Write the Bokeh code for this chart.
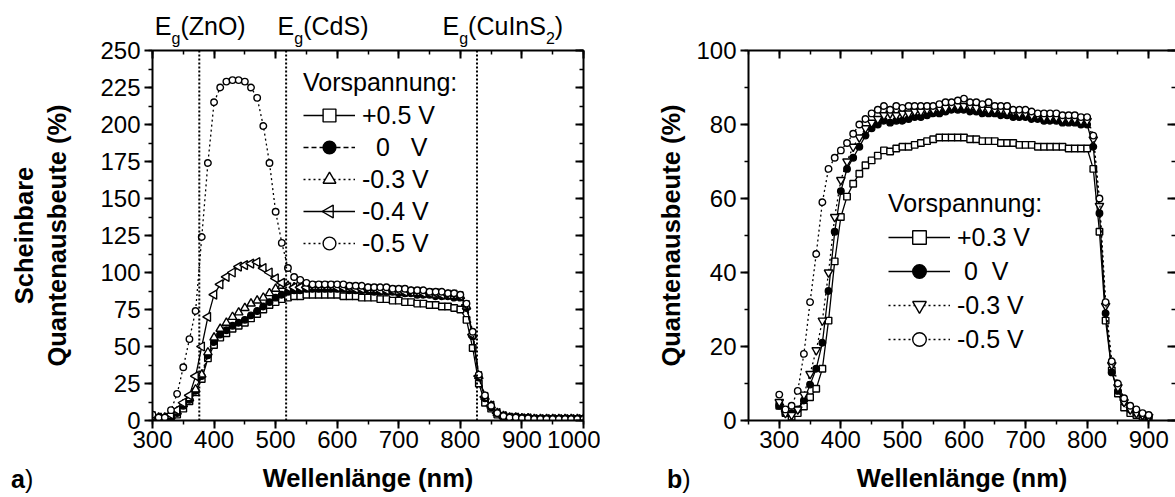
import math
from bokeh.plotting import figure
from bokeh.layouts import row
from bokeh.models import (Range1d, LinearAxis, SingleIntervalTicker, Legend,
                          LegendItem, Span, Div)
from bokeh.embed import file_html
from bokeh.resources import INLINE

FONT = "Liberation Sans"

# ---------------- data: panel a) ----------------
wl_a = list(range(300, 1001, 10))
a_p05 = [2, 1, 1, 1, 4, 8, 13, 19, 28, 42,
         51, 56, 59, 62, 64, 66, 69, 72, 75, 78,
         80, 82, 83, 84, 84, 85, 85, 85, 85, 85,
         85, 84, 84, 84, 83, 83, 83, 82, 82, 81,
         81, 80, 80, 79, 79, 78, 78, 77, 77, 76,
         75, 68, 49, 25, 12, 8, 4, 3, 2, 2,
         1.5, 1.5, 1, 1, 1, 1, 1, 1, 1, 1,
         1]
a_0 = [2, 1, 1, 2, 5, 10, 14, 20, 30, 44,
       53, 58, 61, 64, 66, 68, 71, 74, 77, 80,
       83, 85, 87, 88, 88, 89, 89, 89, 89, 89,
       89, 89, 88, 88, 88, 88, 87, 87, 87, 87,
       86, 86, 86, 85, 85, 85, 84, 84, 84, 83,
       83, 76, 57, 29, 15, 9, 5, 3, 2, 2,
       1.5, 1.5, 1, 1, 1, 1, 1, 1, 1, 1,
       1]
a_m03 = [3, 2, 2, 3, 6, 11, 15, 21, 31, 46,
         56, 62, 66, 70, 73, 76, 79, 81, 83, 86,
         89, 91, 91, 90, 90, 90, 90, 90, 90, 90,
         90, 90, 89, 89, 89, 89, 88, 88, 88, 88,
         87, 87, 87, 86, 86, 86, 85, 85, 85, 84,
         84, 77, 58, 30, 16, 10, 5, 3, 2, 2,
         1.5, 1.5, 1, 1, 1, 1, 1, 1, 1, 1,
         1]
a_m04 = [3, 2, 2, 4, 7, 12, 17, 30, 50, 70,
         85, 92, 97, 100, 104, 105, 106, 107, 103, 100,
         96, 93, 90, 90, 90, 90, 91, 91, 91, 91,
         90, 90, 90, 89, 89, 89, 89, 88, 88, 88,
         88, 87, 87, 87, 86, 86, 86, 85, 85, 85,
         84, 78, 58, 30, 16, 10, 5, 3, 2, 2,
         1.5, 1.5, 1, 1, 1, 1, 1, 1, 1, 1,
         1]
a_m05 = [4, 2, 2, 7, 18, 36, 55, 74, 124, 174,
         215, 225, 229, 230, 230, 229, 225, 218, 199, 174,
         141, 120, 103, 97, 95, 93, 92, 92, 92, 92,
         92, 92, 91, 91, 91, 90, 90, 90, 90, 89,
         89, 89, 88, 88, 88, 87, 87, 87, 86, 86,
         85, 79, 60, 31, 17, 10, 5, 3, 2, 2,
         1.5, 1.5, 1, 1, 1, 1, 1, 1, 1, 1,
         1]
labels_a = ["+0.5 V", "\u00a0\u00a00\u00a0\u00a0\u00a0V", "-0.3 V", "-0.4 V", "-0.5 V"]

eg_wl = [376, 517, 827]
eg_names = ["ZnO", "CdS", "CuInS<span style='font-size:16px;vertical-align:-9px'>2</span>"]

# ---------------- data: panel b) ----------------
wl_b = list(range(300, 901, 10))
b_p03 = [4, 2, 1, 2, 3.8, 6.3, 8.6, 14, 27, 43,
         55, 60.5, 64, 66.7, 69, 70.3, 71.6, 73, 72.7, 73.5,
         74, 74, 74.5, 75, 75.5, 76, 76.5, 76.5, 76.5, 76.5,
         76.5, 76, 76, 75.5, 75.5, 75.5, 75, 75, 75, 74.5,
         74.5, 74.5, 74, 74, 74, 74, 74, 73.5, 73.5, 73.5,
         73.5, 68, 51, 27, 13.5, 7.3, 3.5, 2, 1.5, 1,
         0.5]
b_0 = [4, 2, 2, 3, 5.4, 9.7, 14, 21, 35, 51,
       62, 68, 71, 74, 77, 79, 80, 81, 80.5, 81,
       81, 81.5, 82, 82, 82.5, 83, 83, 83.5, 84, 84,
       84, 83.5, 83.5, 83, 83, 83, 82.5, 82.5, 82, 82,
       82, 81.5, 81.5, 81, 81, 81, 80.5, 80.5, 80.5, 80,
       80, 74, 56, 29, 13, 8, 5, 3, 2, 1.5,
       1]
b_m03 = [5, 2, 1.5, 3, 7, 12.6, 19, 27, 40, 55,
         65, 70, 74, 76.5, 79, 80.5, 81.5, 82.5, 83, 82.5,
         83, 83, 83.5, 83.5, 84, 84, 84.5, 84.5, 85, 85,
         85, 85, 84.5, 84.5, 84, 84, 84, 83.5, 83.5, 83,
         83, 82.5, 82.5, 82, 82, 82, 81.5, 81.5, 81.5, 81,
         81, 76, 58, 31, 15, 9, 5, 3, 2, 1.5,
         1]
b_m05 = [7, 3, 4, 8, 18, 32, 45, 59, 68, 71,
         73, 75, 77.5, 80, 81.5, 83, 84, 85, 84, 85,
         84.5, 85, 85, 85, 85, 85, 85.5, 86, 86, 86.5,
         87, 86, 86, 85.5, 86, 85, 85, 85, 84, 84,
         84, 83.5, 83, 83, 83, 83, 82.5, 82.5, 82.5, 82,
         82, 77, 60, 32, 16, 10, 6, 4, 3, 2,
         1.5]
labels_b = ["+0.3 V", "\u00a00\u00a0\u00a0V", "-0.3 V", "-0.5 V"]

# ---------------- layout geometry ----------------
H = 497
TOP, BOTTOM = 50, 77
W1, ML1, MR1 = 600, 152, 17
W2, ML2, MR2 = 575, 148, 0
XR1 = (300, 1000)
YR1 = (0, 250)
PXNM = (W1 - ML1 - MR1) / (XR1[1] - XR1[0])
XR2 = (250, 250 + (W2 - ML2 - MR2) / PXNM)
YR2 = (0, 100)
FH = H - TOP - BOTTOM


def make_fig(width, xr, yr, ml, mr):
    p = figure(width=width, height=H, x_range=Range1d(*xr), y_range=Range1d(*yr),
               output_backend="svg", toolbar_location=None,
               x_axis_location=None, y_axis_location=None,
               min_border_left=ml, min_border_right=mr,
               min_border_top=TOP, min_border_bottom=BOTTOM)
    p.outline_line_color = None
    p.xgrid.visible = False
    p.ygrid.visible = False
    p.background_fill_color = "white"
    p.border_fill_color = "white"
    return p


def style_axis(ax, labels=True, inward=False, line=True):
    ax.axis_line_width = 2
    ax.axis_line_color = "black" if line else None
    ax.major_tick_line_width = 2
    ax.minor_tick_line_width = 1.5
    if inward:
        ax.major_tick_in, ax.major_tick_out = 8, 0
        ax.minor_tick_in, ax.minor_tick_out = 4, 0
    else:
        ax.major_tick_in, ax.major_tick_out = 0, 8
        ax.minor_tick_in, ax.minor_tick_out = 0, 4
    if labels:
        ax.major_label_text_font = FONT
        ax.major_label_text_font_size = "24px"
        ax.major_label_text_color = "black"
    else:
        # frame-only axis: ticks without any labels
        ax.major_label_text_font_size = "1px"
        ax.major_label_text_color = None
        ax.major_label_text_alpha = 0
        ax.major_label_standoff = 0
    ax.axis_label_text_font = FONT
    ax.axis_label_text_font_style = "bold"
    ax.axis_label_text_font_size = "25.5px"
    ax.axis_label_text_color = "black"


def add_axes(p, xint, yint, ylabel, ylab_standoff, right_line=True):
    bx = LinearAxis(ticker=SingleIntervalTicker(interval=xint, num_minor_ticks=2),
                    axis_label="Wellenlänge (nm)")
    style_axis(bx)
    bx.major_label_standoff = 2
    bx.axis_label_standoff = 13
    p.add_layout(bx, "below")
    tx = LinearAxis(ticker=SingleIntervalTicker(interval=xint, num_minor_ticks=2))
    style_axis(tx, labels=False, inward=True)
    p.add_layout(tx, "above")
    ly = LinearAxis(ticker=SingleIntervalTicker(interval=yint, num_minor_ticks=2),
                    axis_label=ylabel)
    style_axis(ly)
    ly.major_label_standoff = 4
    ly.axis_label_standoff = ylab_standoff
    p.add_layout(ly, "left")
    ry = LinearAxis(ticker=SingleIntervalTicker(interval=yint, num_minor_ticks=2))
    style_axis(ry, labels=False, inward=True, line=right_line)
    p.add_layout(ry, "right")


def series(p, x, y, marker, dash, fill, size, angle=0.0, lw=1.3):
    ln = p.line(x, y, line_color="black", line_width=lw, line_dash=dash)
    sc = p.scatter(x, y, marker=marker, size=size, angle=angle,
                   line_color="black", line_width=1.4, fill_color=fill)
    return [ln, sc]


def legend(p, items, loc, gw, gh, standoff):
    lg = Legend(items=items, location=loc, title="Vorspannung:",
                title_text_font=FONT, title_text_font_size="25px",
                title_text_font_style="normal", title_text_color="black",
                title_standoff=2,
                label_text_font=FONT, label_text_font_size="25px",
                label_text_color="black",
                glyph_width=gw, glyph_height=gh, label_height=gh,
                label_standoff=standoff, spacing=0, padding=0, margin=0,
                border_line_color=None, background_fill_alpha=0)
    p.add_layout(lg)


# ---------------- panel a ----------------
p1 = make_fig(W1, XR1, YR1, ML1, MR1)
add_axes(p1, 100, 25, "Scheinbare\nQuantenausbeute (%)", 26)

for e in eg_wl:
    p1.add_layout(Span(location=e, dimension="height", line_color="black",
                       line_width=2, line_dash="2 2"))

r = []
r.append(series(p1, wl_a, a_p05, "square", "solid", "white", 6.5))
r.append(series(p1, wl_a, a_0, "circle", "5 3", "black", 6.5))
r.append(series(p1, wl_a, a_m03, "triangle", "2 3", "white", 8.5))
r.append(series(p1, wl_a, a_m04, "triangle", "solid", "white", 9, angle=math.pi / 2))
r.append(series(p1, wl_a, a_m05, "circle", "2 3", "white", 6.5))

# legend a): bottom-left corner at (303, 259) px; glyph box 52 x 32
LEG_A_LEFT, LEG_A_BOTTOM, GW_A, GH_A = 303, 259, 52, 32
items_a = [LegendItem(label=labels_a[i], renderers=r[i]) for i in range(5)]
# the -0.4 V key: the legend draws markers unrotated, so show only its line there
items_a[3] = LegendItem(label=labels_a[3], renderers=[r[3][0]])
legend(p1, items_a, (LEG_A_LEFT - ML1, TOP + FH - LEG_A_BOTTOM), GW_A, GH_A, 7)

# left-pointing triangle key for the -0.4 V legend entry (placed from legend geometry)
key_px_x = LEG_A_LEFT + GW_A / 2
key_px_y = LEG_A_BOTTOM - (5 - 3 - 1) * GH_A - GH_A / 2
p1.scatter([XR1[0] + (key_px_x - ML1) / PXNM],
           [(TOP + FH - key_px_y) * (YR1[1] - YR1[0]) / FH],
           marker="triangle", angle=math.pi / 2, size=0.4 * min(GW_A, GH_A),
           line_color="black", line_width=1.4, fill_color="white")

# ---------------- panel b ----------------
p2 = make_fig(W2, XR2, YR2, ML2, MR2)
add_axes(p2, 100, 20, "Quantenausbeute (%)", 8, right_line=False)

rb = []
rb.append(series(p2, wl_b, b_p03, "square", "solid", "white", 6.5))
rb.append(series(p2, wl_b, b_0, "circle", "solid", "black", 6.5))
rb.append(series(p2, wl_b, b_m03, "inverted_triangle", "2 3", "white", 8.5))
rb.append(series(p2, wl_b, b_m05, "circle", "2 3", "white", 6.5))
legend(p2, [LegendItem(label=labels_b[i], renderers=rb[i]) for i in range(4)],
       (888 - W1 - ML2, TOP + FH - 356), 62, 34, 7)

# ---------------- texts outside the plot frames (overlay) ----------------
def eg_px(e):
    return ML1 + (e - XR1[0]) * PXNM


eg_off = [-44, -8, -34]
span_style = ("position:absolute;white-space:nowrap;font-family:'Liberation Sans';"
              "color:black;line-height:1;")
html = []
for e, name, off in zip(eg_wl, eg_names, eg_off):
    html.append(f"<span style=\"{span_style}left:{eg_px(e) + off:.1f}px;top:14px;font-size:25px\">"
                f"E<span style='font-size:16px;vertical-align:-9px'>g</span>({name})</span>")
html.append(f"<span style=\"{span_style}left:11px;top:467px;font-size:25px\"><b>a</b>)</span>")
html.append(f"<span style=\"{span_style}left:667px;top:467px;font-size:25px\"><b>b</b>)</span>")
overlay = Div(text="".join(html), width=W1 + W2, height=H, margin=0,
              styles={"position": "absolute", "left": "0px", "top": "0px",
                      "z-index": "10", "pointer-events": "none"})

layout = row(p1, p2, overlay, spacing=0)
open("out.html", "w").write(file_html(layout, INLINE))
